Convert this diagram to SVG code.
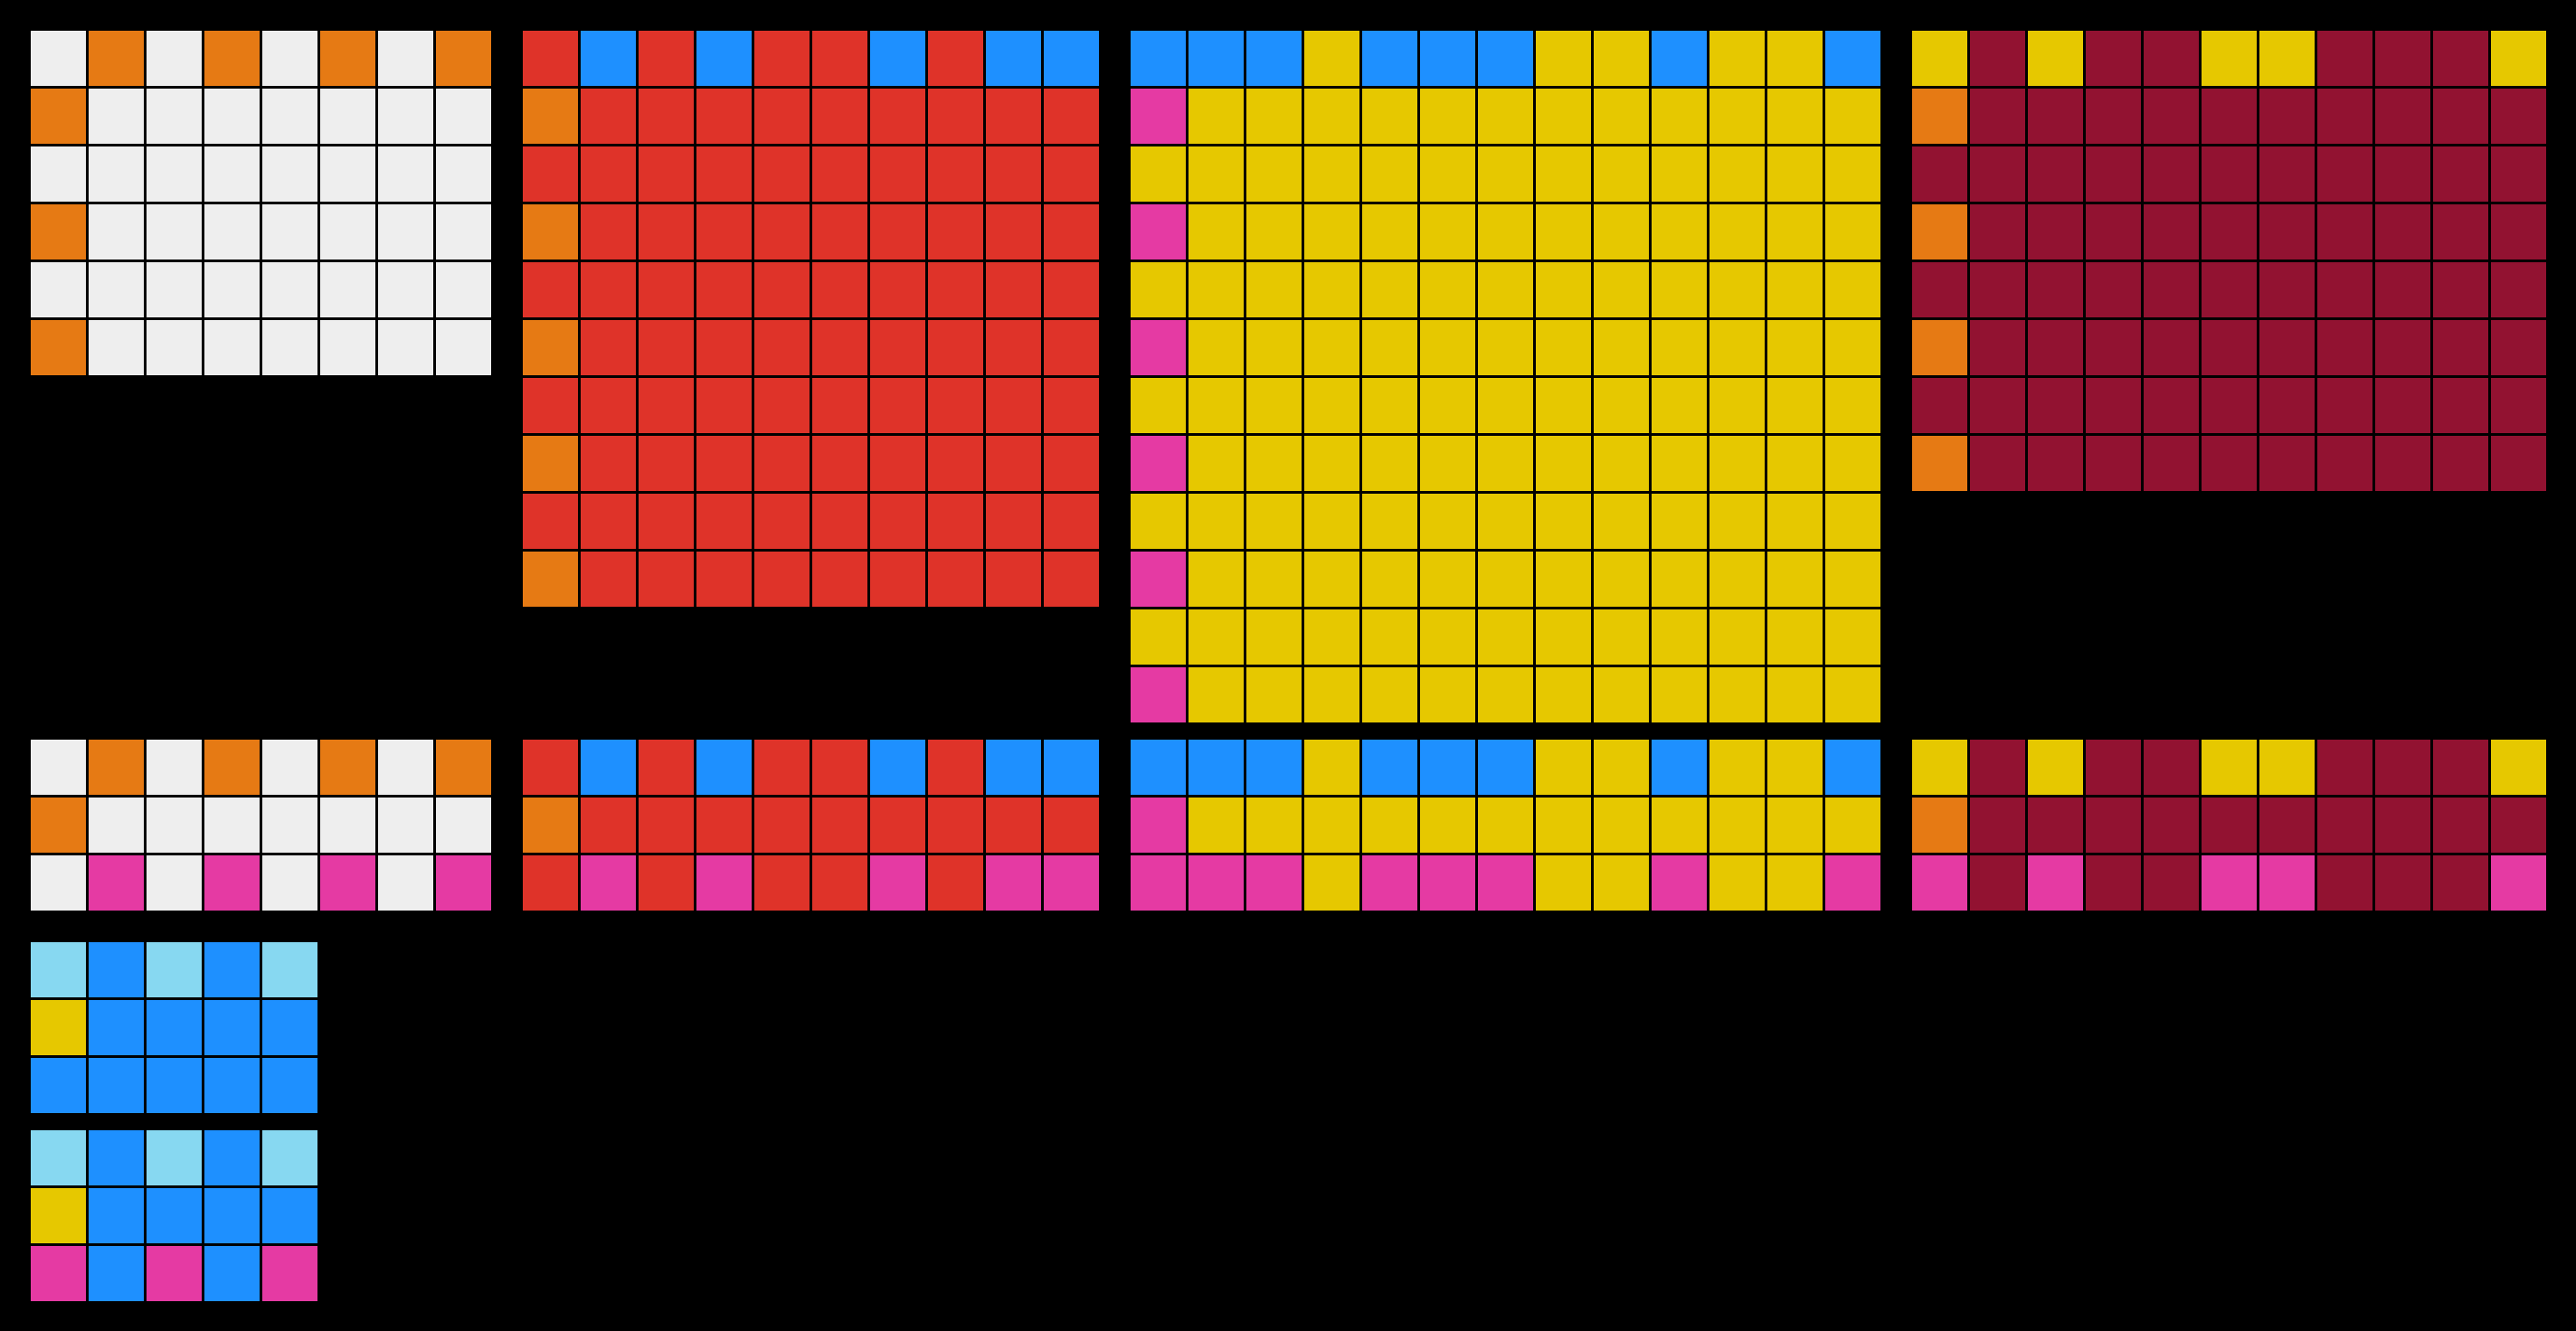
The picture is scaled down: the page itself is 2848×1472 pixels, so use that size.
<svg xmlns="http://www.w3.org/2000/svg" width="2848" height="1472" viewBox="0 0 2848 1472">
<style>
.w{fill:#EEEEEE}.o{fill:#E67A14}.r{fill:#DF3329}.b{fill:#1E90FF}.y{fill:#E6C800}.p{fill:#E53AA3}.m{fill:#921231}.l{fill:#87D8F1}
</style>
<defs>
<pattern id="gl" width="64" height="64" patternUnits="userSpaceOnUse">
<rect x="0" y="0" width="2" height="64" fill="#000"/><rect x="63" y="0" width="1" height="64" fill="#000"/>
<rect x="0" y="0" width="64" height="2" fill="#000"/><rect x="0" y="63" width="64" height="1" fill="#000"/>
</pattern>
</defs>
<rect x="0" y="0" width="2848" height="1472" fill="#000"/>

<g id="gridA" transform="translate(32,32)">
<rect class="w" x="2" y="2" width="509" height="381"/>
<rect class="o" x="66" y="2" width="61" height="61"/><rect class="o" x="194" y="2" width="61" height="61"/><rect class="o" x="322" y="2" width="61" height="61"/><rect class="o" x="450" y="2" width="61" height="61"/>
<rect class="o" x="2" y="66" width="61" height="61"/><rect class="o" x="2" y="194" width="61" height="61"/><rect class="o" x="2" y="322" width="61" height="61"/>
<rect x="0" y="0" width="512" height="384" fill="url(#gl)"/>
</g>

<g id="gridB" transform="translate(576,32)">
<rect class="r" x="2" y="2" width="637" height="637"/>
<rect class="b" x="66" y="2" width="61" height="61"/><rect class="b" x="194" y="2" width="61" height="61"/><rect class="b" x="386" y="2" width="61" height="61"/><rect class="b" x="514" y="2" width="61" height="61"/><rect class="b" x="578" y="2" width="61" height="61"/>
<rect class="o" x="2" y="66" width="61" height="61"/><rect class="o" x="2" y="194" width="61" height="61"/><rect class="o" x="2" y="322" width="61" height="61"/><rect class="o" x="2" y="450" width="61" height="61"/><rect class="o" x="2" y="578" width="61" height="61"/>
<rect x="0" y="0" width="640" height="640" fill="url(#gl)"/>
</g>

<g id="gridC" transform="translate(1248,32)">
<rect class="y" x="2" y="2" width="829" height="765"/>
<rect class="b" x="2" y="2" width="61" height="61"/><rect class="b" x="66" y="2" width="61" height="61"/><rect class="b" x="130" y="2" width="61" height="61"/><rect class="b" x="258" y="2" width="61" height="61"/><rect class="b" x="322" y="2" width="61" height="61"/><rect class="b" x="386" y="2" width="61" height="61"/><rect class="b" x="578" y="2" width="61" height="61"/><rect class="b" x="770" y="2" width="61" height="61"/>
<rect class="p" x="2" y="66" width="61" height="61"/><rect class="p" x="2" y="194" width="61" height="61"/><rect class="p" x="2" y="322" width="61" height="61"/><rect class="p" x="2" y="450" width="61" height="61"/><rect class="p" x="2" y="578" width="61" height="61"/><rect class="p" x="2" y="706" width="61" height="61"/>
<rect x="0" y="0" width="832" height="768" fill="url(#gl)"/>
</g>

<g id="gridD" transform="translate(2112,32)">
<rect class="m" x="2" y="2" width="701" height="509"/>
<rect class="y" x="2" y="2" width="61" height="61"/><rect class="y" x="130" y="2" width="61" height="61"/><rect class="y" x="322" y="2" width="61" height="61"/><rect class="y" x="386" y="2" width="61" height="61"/><rect class="y" x="642" y="2" width="61" height="61"/>
<rect class="o" x="2" y="66" width="61" height="61"/><rect class="o" x="2" y="194" width="61" height="61"/><rect class="o" x="2" y="322" width="61" height="61"/><rect class="o" x="2" y="450" width="61" height="61"/>
<rect x="0" y="0" width="704" height="512" fill="url(#gl)"/>
</g>

<g id="gridA2" transform="translate(32,816)">
<rect class="w" x="2" y="2" width="509" height="189"/>
<rect class="o" x="66" y="2" width="61" height="61"/><rect class="o" x="194" y="2" width="61" height="61"/><rect class="o" x="322" y="2" width="61" height="61"/><rect class="o" x="450" y="2" width="61" height="61"/>
<rect class="o" x="2" y="66" width="61" height="61"/>
<rect class="p" x="66" y="130" width="61" height="61"/><rect class="p" x="194" y="130" width="61" height="61"/><rect class="p" x="322" y="130" width="61" height="61"/><rect class="p" x="450" y="130" width="61" height="61"/>
<rect x="0" y="0" width="512" height="192" fill="url(#gl)"/>
</g>

<g id="gridB2" transform="translate(576,816)">
<rect class="r" x="2" y="2" width="637" height="189"/>
<rect class="b" x="66" y="2" width="61" height="61"/><rect class="b" x="194" y="2" width="61" height="61"/><rect class="b" x="386" y="2" width="61" height="61"/><rect class="b" x="514" y="2" width="61" height="61"/><rect class="b" x="578" y="2" width="61" height="61"/>
<rect class="o" x="2" y="66" width="61" height="61"/>
<rect class="p" x="66" y="130" width="61" height="61"/><rect class="p" x="194" y="130" width="61" height="61"/><rect class="p" x="386" y="130" width="61" height="61"/><rect class="p" x="514" y="130" width="61" height="61"/><rect class="p" x="578" y="130" width="61" height="61"/>
<rect x="0" y="0" width="640" height="192" fill="url(#gl)"/>
</g>

<g id="gridC2" transform="translate(1248,816)">
<rect class="y" x="2" y="2" width="829" height="189"/>
<rect class="b" x="2" y="2" width="61" height="61"/><rect class="b" x="66" y="2" width="61" height="61"/><rect class="b" x="130" y="2" width="61" height="61"/><rect class="b" x="258" y="2" width="61" height="61"/><rect class="b" x="322" y="2" width="61" height="61"/><rect class="b" x="386" y="2" width="61" height="61"/><rect class="b" x="578" y="2" width="61" height="61"/><rect class="b" x="770" y="2" width="61" height="61"/>
<rect class="p" x="2" y="66" width="61" height="61"/>
<rect class="p" x="2" y="130" width="61" height="61"/><rect class="p" x="66" y="130" width="61" height="61"/><rect class="p" x="130" y="130" width="61" height="61"/><rect class="p" x="258" y="130" width="61" height="61"/><rect class="p" x="322" y="130" width="61" height="61"/><rect class="p" x="386" y="130" width="61" height="61"/><rect class="p" x="578" y="130" width="61" height="61"/><rect class="p" x="770" y="130" width="61" height="61"/>
<rect x="0" y="0" width="832" height="192" fill="url(#gl)"/>
</g>

<g id="gridD2" transform="translate(2112,816)">
<rect class="m" x="2" y="2" width="701" height="189"/>
<rect class="y" x="2" y="2" width="61" height="61"/><rect class="y" x="130" y="2" width="61" height="61"/><rect class="y" x="322" y="2" width="61" height="61"/><rect class="y" x="386" y="2" width="61" height="61"/><rect class="y" x="642" y="2" width="61" height="61"/>
<rect class="o" x="2" y="66" width="61" height="61"/>
<rect class="p" x="2" y="130" width="61" height="61"/><rect class="p" x="130" y="130" width="61" height="61"/><rect class="p" x="322" y="130" width="61" height="61"/><rect class="p" x="386" y="130" width="61" height="61"/><rect class="p" x="642" y="130" width="61" height="61"/>
<rect x="0" y="0" width="704" height="192" fill="url(#gl)"/>
</g>

<g id="gridE" transform="translate(32,1040)">
<rect class="b" x="2" y="2" width="317" height="189"/>
<rect class="l" x="2" y="2" width="61" height="61"/><rect class="l" x="130" y="2" width="61" height="61"/><rect class="l" x="258" y="2" width="61" height="61"/>
<rect class="y" x="2" y="66" width="61" height="61"/>
<rect x="0" y="0" width="320" height="192" fill="url(#gl)"/>
</g>

<g id="gridF" transform="translate(32,1248)">
<rect class="b" x="2" y="2" width="317" height="189"/>
<rect class="l" x="2" y="2" width="61" height="61"/><rect class="l" x="130" y="2" width="61" height="61"/><rect class="l" x="258" y="2" width="61" height="61"/>
<rect class="y" x="2" y="66" width="61" height="61"/>
<rect class="p" x="2" y="130" width="61" height="61"/><rect class="p" x="130" y="130" width="61" height="61"/><rect class="p" x="258" y="130" width="61" height="61"/>
<rect x="0" y="0" width="320" height="192" fill="url(#gl)"/>
</g>

<g id="connectors"></g>
</svg>
